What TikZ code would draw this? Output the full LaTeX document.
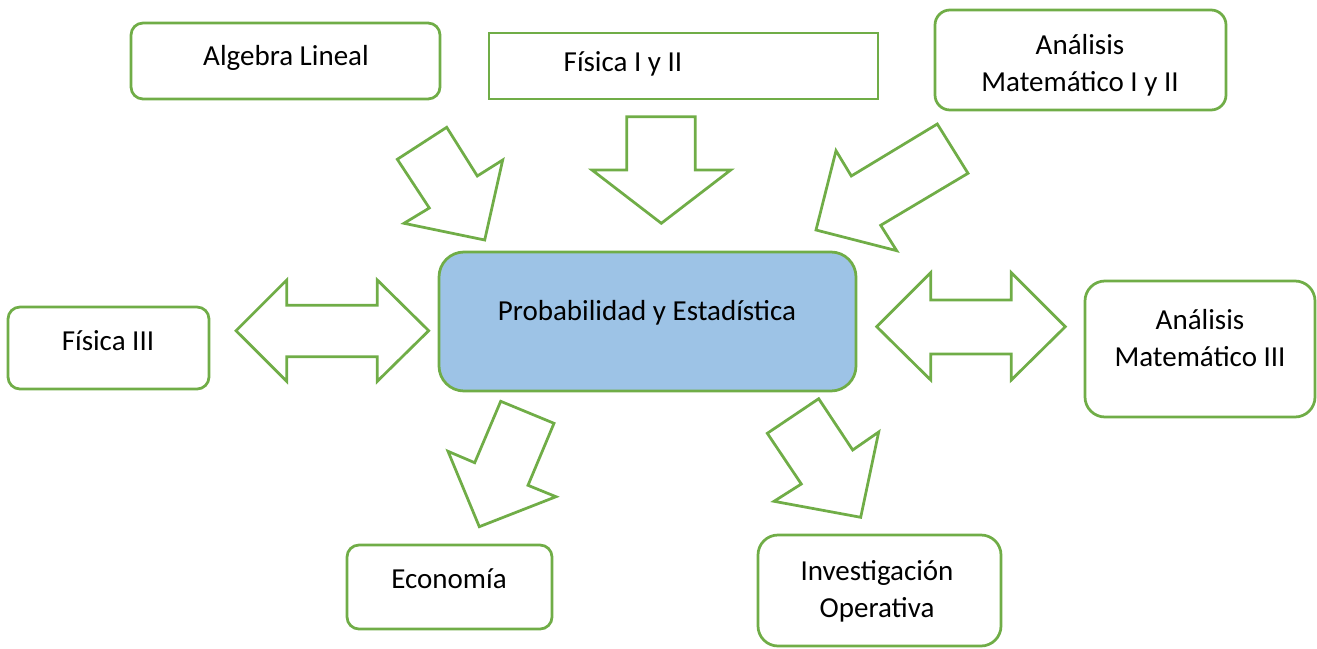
\documentclass[tikz,border=0pt]{standalone}
\usepackage{fontspec}
\setmainfont{Carlito}
\usepackage{xcolor}
\definecolor{verde}{HTML}{70AD47}
\definecolor{celeste}{HTML}{9DC3E6}

\begin{document}
\begin{tikzpicture}[x=1pt, y=-1pt,
	caja/.style={draw=verde, line width=2.75pt, rounded corners=12pt, inner sep=0pt},
	texto/.style={font=\fontsize{29}{37}\selectfont, align=center, inner sep=0pt},
	flecha/.style={draw=verde, line width=2.75pt, line join=miter, fill=white}]
	\useasboundingbox (0,0) rectangle (1317,648);
	% cajas
	\node[caja, minimum width=309pt, minimum height=76pt] (algebra) at (285.5,61) {};
	\node[caja, rounded corners=0pt, minimum width=389pt, minimum height=66pt] (fisica12) at (683.5,66) {};
	\node[caja, rounded corners=15pt, minimum width=291pt, minimum height=100pt] (analisis12) at (1080.5,60) {};
	\node[caja, fill=celeste, rounded corners=25pt, minimum width=417pt, minimum height=139pt] (probest) at (647.5,321.5) {};
	\node[caja, minimum width=201pt, minimum height=82pt] (fisica3) at (108.5,348) {};
	\node[caja, rounded corners=20pt, minimum width=230pt, minimum height=136pt] (analisis3) at (1200,349) {};
	\node[caja, minimum width=205pt, minimum height=84pt] (economia) at (449.5,587) {};
	\node[caja, rounded corners=20pt, minimum width=243pt, minimum height=111pt] (investigacion) at (879.5,590.5) {};
	% textos
	\node[texto] (algebra-t) at (286,58.3) {\strut Algebra Lineal};
	\node[texto] (fisica12-t) at (623,64.3) {\strut Física I y II};
	\node[texto] (analisis12-t) at (1080,65.1) {\strut Análisis\\\strut Matemático I y II};
	\node[texto] (probest-t) at (647,312.6) {\strut Probabilidad y Estadística};
	\node[texto] (fisica3-t) at (108,342.6) {\strut Física III};
	\node[texto] (analisis3-t) at (1200,341) {\strut Análisis\\\strut Matemático III};
	\node[texto] (economia-t) at (449,580.6) {\strut Economía};
	\node[texto] (investigacion-t) at (877,591.3) {\strut Investigación\\\strut Operativa};
	% flechas de entrada
	\draw[flecha] (397.3,159.3) -- (446.7,127.3) -- (477.3,176) -- (502.7,160) -- (484.7,240)
		-- (404,223.3) -- (429.3,208) -- cycle;
	\draw[flecha] (626.7,116.7) -- (695.3,116.7) -- (695.3,170) -- (730.7,170) -- (661.3,223.3)
		-- (592,170) -- (626.7,170) -- cycle;
	\draw[flecha] (937.3,124) -- (968,173.3) -- (880.7,225.3) -- (896.7,250.7) -- (816,230)
		-- (836,150.7) -- (851.3,176) -- cycle;
	% flechas dobles
	\draw[flecha] (236,330.7) -- (286.7,280) -- (286.7,305.3) -- (377.3,305.3) -- (377.3,280)
		-- (428.7,330.7) -- (377.3,381.3) -- (377.3,356.7) -- (286.7,356.7) -- (286.7,381.3) -- cycle;
	\draw[flecha] (876.7,326.7) -- (930.7,272.7) -- (930.7,300) -- (1011.3,300) -- (1011.3,272.7)
		-- (1065.3,326.7) -- (1011.3,380) -- (1011.3,354) -- (930.7,354) -- (930.7,380) -- cycle;
	% flechas de salida
	\draw[flecha] (500.7,401.3) -- (554,423.3) -- (528,485.3) -- (556,496.7) -- (479.3,526.7)
		-- (448,451.3) -- (474.7,462.7) -- cycle;
	\draw[flecha] (818.7,398.7) -- (852.7,450) -- (878.7,432) -- (860.7,517.3) -- (774,501.3)
		-- (801.3,484) -- (767.3,433.3) -- cycle;
\end{tikzpicture}
\end{document}
